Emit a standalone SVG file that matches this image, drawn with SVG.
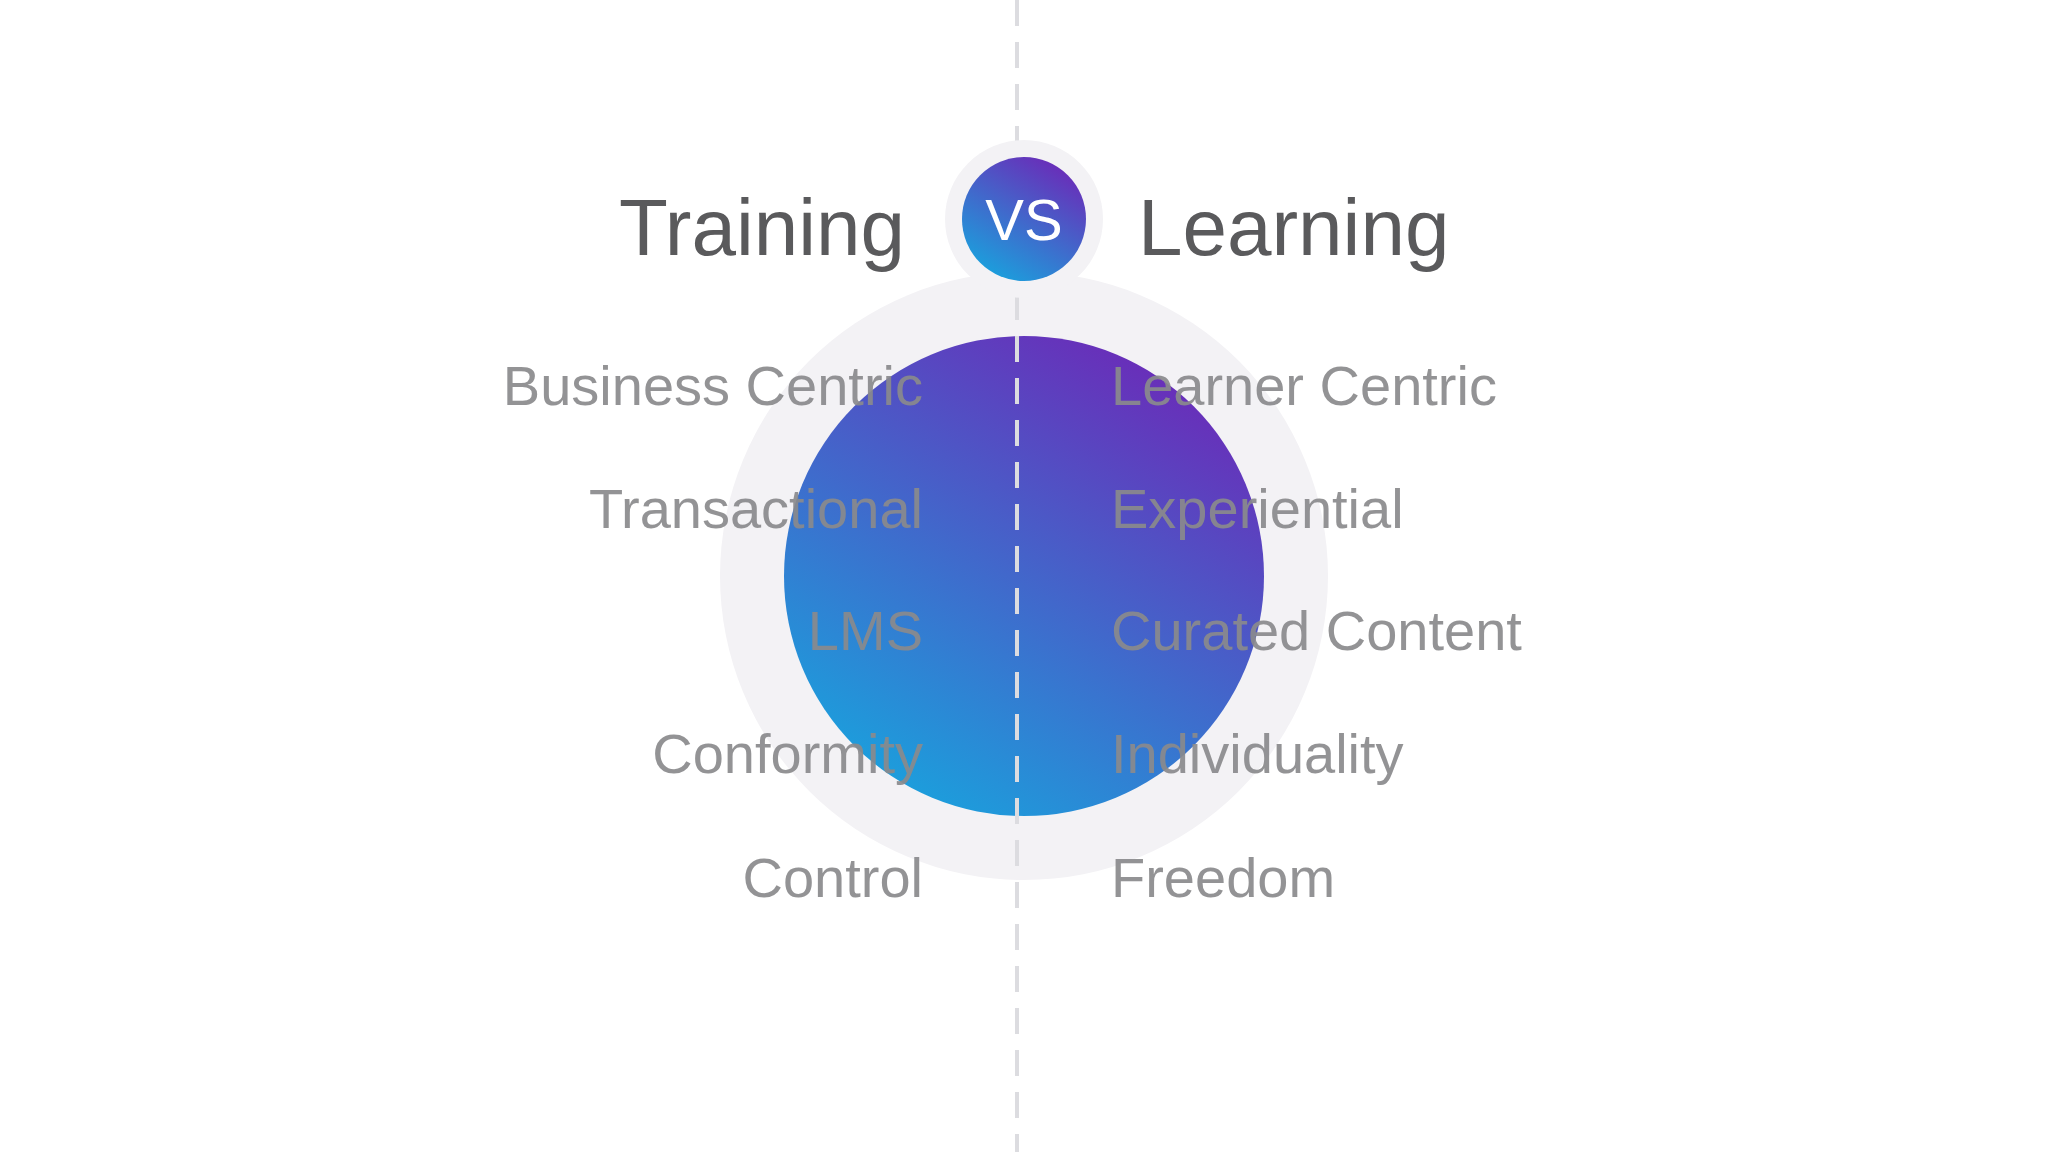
<svg xmlns="http://www.w3.org/2000/svg" width="2048" height="1152" viewBox="0 0 2048 1152">
<defs>
<linearGradient id="g" x1="0.8" y1="0.05" x2="0.25" y2="0.95">
<stop offset="0" stop-color="#6b2bb8"/>
<stop offset="1" stop-color="#1c9edc"/>
</linearGradient>
<style>
.t{font-family:"Liberation Sans",Arial,sans-serif;font-size:80px;fill:#5a5a5c}
.l{font-family:"Liberation Sans",Arial,sans-serif;font-size:56px;fill:#8a8a8c;fill-opacity:0.92}
</style>
</defs>
<rect width="2048" height="1152" fill="#ffffff"/>
<g id="halo"><circle cx="1024" cy="576" r="304" fill="#f3f2f5"/></g>
<g id="big"><circle cx="1024" cy="576" r="240" fill="url(#g)"/></g>
<g id="connectors"><line x1="1017" y1="0" x2="1017" y2="1152" stroke="#dcdce0" stroke-width="4" stroke-dasharray="26,16"/></g>
<g id="vs">
<circle cx="1024" cy="219" r="79" fill="#f3f2f5"/>
<circle cx="1024" cy="219" r="62" fill="url(#g)"/>
<text x="1024" y="240" text-anchor="middle" font-family="Liberation Sans,Arial,sans-serif" font-size="58" fill="#ffffff">VS</text>
</g>
<g id="titles">
<text class="t" x="905" y="255" text-anchor="end">Training</text>
<text class="t" x="1138" y="255">Learning</text>
</g>
<g id="left" text-anchor="end">
<text class="l" x="923" y="405">Business Centric</text>
<text class="l" x="923" y="528">Transactional</text>
<text class="l" x="923" y="650">LMS</text>
<text class="l" x="923" y="773">Conformity</text>
<text class="l" x="923" y="897">Control</text>
</g>
<g id="right">
<text class="l" x="1111" y="405">Learner Centric</text>
<text class="l" x="1111" y="528">Experiential</text>
<text class="l" x="1111" y="650">Curated Content</text>
<text class="l" x="1111" y="773">Individuality</text>
<text class="l" x="1111" y="897">Freedom</text>
</g>
</svg>
